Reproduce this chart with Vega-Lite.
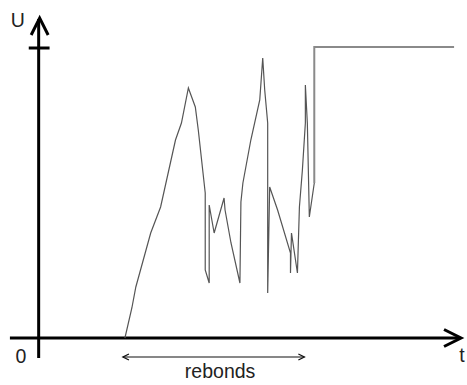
{
  "$schema": "https://vega.github.io/schema/vega-lite/v6.json",
  "width": 467,
  "height": 385,
  "padding": 0,
  "autosize": {"type": "fit", "contains": "padding"},
  "config": {"view": {"stroke": null}},
  "datasets": {
    "curve": [
      {"i": 0, "x": 87, "y": 0},
      {"i": 1, "x": 94, "y": 30},
      {"i": 2, "x": 98, "y": 51},
      {"i": 3, "x": 113, "y": 105},
      {"i": 4, "x": 123, "y": 131},
      {"i": 5, "x": 138, "y": 198},
      {"i": 6, "x": 144, "y": 215},
      {"i": 7, "x": 151, "y": 250},
      {"i": 8, "x": 158, "y": 231},
      {"i": 9, "x": 161, "y": 208},
      {"i": 10, "x": 168, "y": 145},
      {"i": 11, "x": 168, "y": 68},
      {"i": 12, "x": 172, "y": 55},
      {"i": 13, "x": 172, "y": 133},
      {"i": 14, "x": 177, "y": 105},
      {"i": 15, "x": 187, "y": 140},
      {"i": 16, "x": 188, "y": 128},
      {"i": 17, "x": 194, "y": 95},
      {"i": 18, "x": 203, "y": 55},
      {"i": 19, "x": 204, "y": 136},
      {"i": 20, "x": 206, "y": 155},
      {"i": 21, "x": 214, "y": 198},
      {"i": 22, "x": 223, "y": 238},
      {"i": 23, "x": 226, "y": 280},
      {"i": 24, "x": 228, "y": 248},
      {"i": 25, "x": 231, "y": 215},
      {"i": 26, "x": 231, "y": 45},
      {"i": 27, "x": 233, "y": 151},
      {"i": 28, "x": 241, "y": 128},
      {"i": 29, "x": 254, "y": 85},
      {"i": 30, "x": 254, "y": 65},
      {"i": 31, "x": 255, "y": 105},
      {"i": 32, "x": 261, "y": 65},
      {"i": 33, "x": 263, "y": 131},
      {"i": 34, "x": 266, "y": 168},
      {"i": 35, "x": 269, "y": 215},
      {"i": 36, "x": 269, "y": 253},
      {"i": 37, "x": 271, "y": 215},
      {"i": 38, "x": 273, "y": 121},
      {"i": 39, "x": 278, "y": 155}
    ],
    "final": [
      {"i": 0, "x": 278, "y": 155},
      {"i": 1, "x": 278, "y": 291},
      {"i": 2, "x": 419, "y": 291}
    ],
    "axes": [
      {"x": 0, "y": -20, "x2": 0, "y2": 319},
      {"x": -29, "y": 0, "x2": 425, "y2": 0},
      {"x": -10, "y": 290, "x2": 11, "y2": 290}
    ],
    "bigArrows": [
      {"x": 1, "y": 320, "dir": "up"},
      {"x": 426, "y": 0, "dir": "right"}
    ],
    "span": [
      {"x": 85, "y": -19, "x2": 268, "y2": -19}
    ],
    "smallArrows": [
      {"x": 85, "y": -19, "dir": "left"},
      {"x": 268, "y": -19, "dir": "right"}
    ],
    "labels": [
      {"x": -21, "y": 311, "text": "U", "align": "center"},
      {"x": -18, "y": -25, "text": "0", "align": "center"},
      {"x": 183, "y": -40, "text": "rebonds", "align": "center"},
      {"x": 427, "y": -24, "text": "t", "align": "left"}
    ]
  },
  "layer": [
    {
      "data": {"name": "axes"},
      "mark": {"type": "rule", "color": "#000000", "strokeWidth": 3},
      "encoding": {
        "x": {"field": "x", "type": "quantitative", "scale": {"domain": [-39, 428], "nice": false, "zero": false}, "axis": null},
        "y": {"field": "y", "type": "quantitative", "scale": {"domain": [-47, 338], "nice": false, "zero": false}, "axis": null},
        "x2": {"field": "x2"},
        "y2": {"field": "y2"}
      }
    },
    {
      "data": {"name": "bigArrows"},
      "transform": [{"filter": "datum.dir == 'up'"}],
      "mark": {"type": "point", "shape": "M-1,2L0,0L1,2", "filled": false, "stroke": "#000000", "strokeWidth": 3, "size": 289, "opacity": 1},
      "encoding": {
        "x": {"field": "x", "type": "quantitative", "scale": {"domain": [-39, 428], "nice": false, "zero": false}, "axis": null},
        "y": {"field": "y", "type": "quantitative", "scale": {"domain": [-47, 338], "nice": false, "zero": false}, "axis": null}
      }
    },
    {
      "data": {"name": "bigArrows"},
      "transform": [{"filter": "datum.dir == 'right'"}],
      "mark": {"type": "point", "shape": "M-2,-1L0,0L-2,1", "filled": false, "stroke": "#000000", "strokeWidth": 3, "size": 289, "opacity": 1},
      "encoding": {
        "x": {"field": "x", "type": "quantitative", "scale": {"domain": [-39, 428], "nice": false, "zero": false}, "axis": null},
        "y": {"field": "y", "type": "quantitative", "scale": {"domain": [-47, 338], "nice": false, "zero": false}, "axis": null}
      }
    },
    {
      "data": {"name": "span"},
      "mark": {"type": "rule", "color": "#111111", "strokeWidth": 1.2},
      "encoding": {
        "x": {"field": "x", "type": "quantitative", "scale": {"domain": [-39, 428], "nice": false, "zero": false}, "axis": null},
        "y": {"field": "y", "type": "quantitative", "scale": {"domain": [-47, 338], "nice": false, "zero": false}, "axis": null},
        "x2": {"field": "x2"},
        "y2": {"field": "y2"}
      }
    },
    {
      "data": {"name": "smallArrows"},
      "transform": [{"filter": "datum.dir == 'left'"}],
      "mark": {"type": "point", "shape": "M2,-1L0,0L2,1", "filled": false, "stroke": "#111111", "strokeWidth": 1.3, "size": 36, "opacity": 1},
      "encoding": {
        "x": {"field": "x", "type": "quantitative", "scale": {"domain": [-39, 428], "nice": false, "zero": false}, "axis": null},
        "y": {"field": "y", "type": "quantitative", "scale": {"domain": [-47, 338], "nice": false, "zero": false}, "axis": null}
      }
    },
    {
      "data": {"name": "smallArrows"},
      "transform": [{"filter": "datum.dir == 'right'"}],
      "mark": {"type": "point", "shape": "M-2,-1L0,0L-2,1", "filled": false, "stroke": "#111111", "strokeWidth": 1.3, "size": 36, "opacity": 1},
      "encoding": {
        "x": {"field": "x", "type": "quantitative", "scale": {"domain": [-39, 428], "nice": false, "zero": false}, "axis": null},
        "y": {"field": "y", "type": "quantitative", "scale": {"domain": [-47, 338], "nice": false, "zero": false}, "axis": null}
      }
    },
    {
      "data": {"name": "curve"},
      "mark": {"type": "line", "color": "#555555", "strokeWidth": 1.2},
      "encoding": {
        "x": {"field": "x", "type": "quantitative", "scale": {"domain": [-39, 428], "nice": false, "zero": false}, "axis": null},
        "y": {"field": "y", "type": "quantitative", "scale": {"domain": [-47, 338], "nice": false, "zero": false}, "axis": null},
        "order": {"field": "i", "type": "quantitative"}
      }
    },
    {
      "data": {"name": "final"},
      "mark": {"type": "line", "color": "#8a8a8a", "strokeWidth": 2},
      "encoding": {
        "x": {"field": "x", "type": "quantitative", "scale": {"domain": [-39, 428], "nice": false, "zero": false}, "axis": null},
        "y": {"field": "y", "type": "quantitative", "scale": {"domain": [-47, 338], "nice": false, "zero": false}, "axis": null},
        "order": {"field": "i", "type": "quantitative"}
      }
    },
    {
      "data": {"name": "labels"},
      "mark": {"type": "text", "font": "Liberation Sans", "fontSize": 19.5, "color": "#222222", "baseline": "alphabetic"},
      "encoding": {
        "x": {"field": "x", "type": "quantitative", "scale": {"domain": [-39, 428], "nice": false, "zero": false}, "axis": null},
        "y": {"field": "y", "type": "quantitative", "scale": {"domain": [-47, 338], "nice": false, "zero": false}, "axis": null},
        "text": {"field": "text"},
        "align": {"field": "align", "type": "nominal", "scale": null}
      }
    }
  ]
}
